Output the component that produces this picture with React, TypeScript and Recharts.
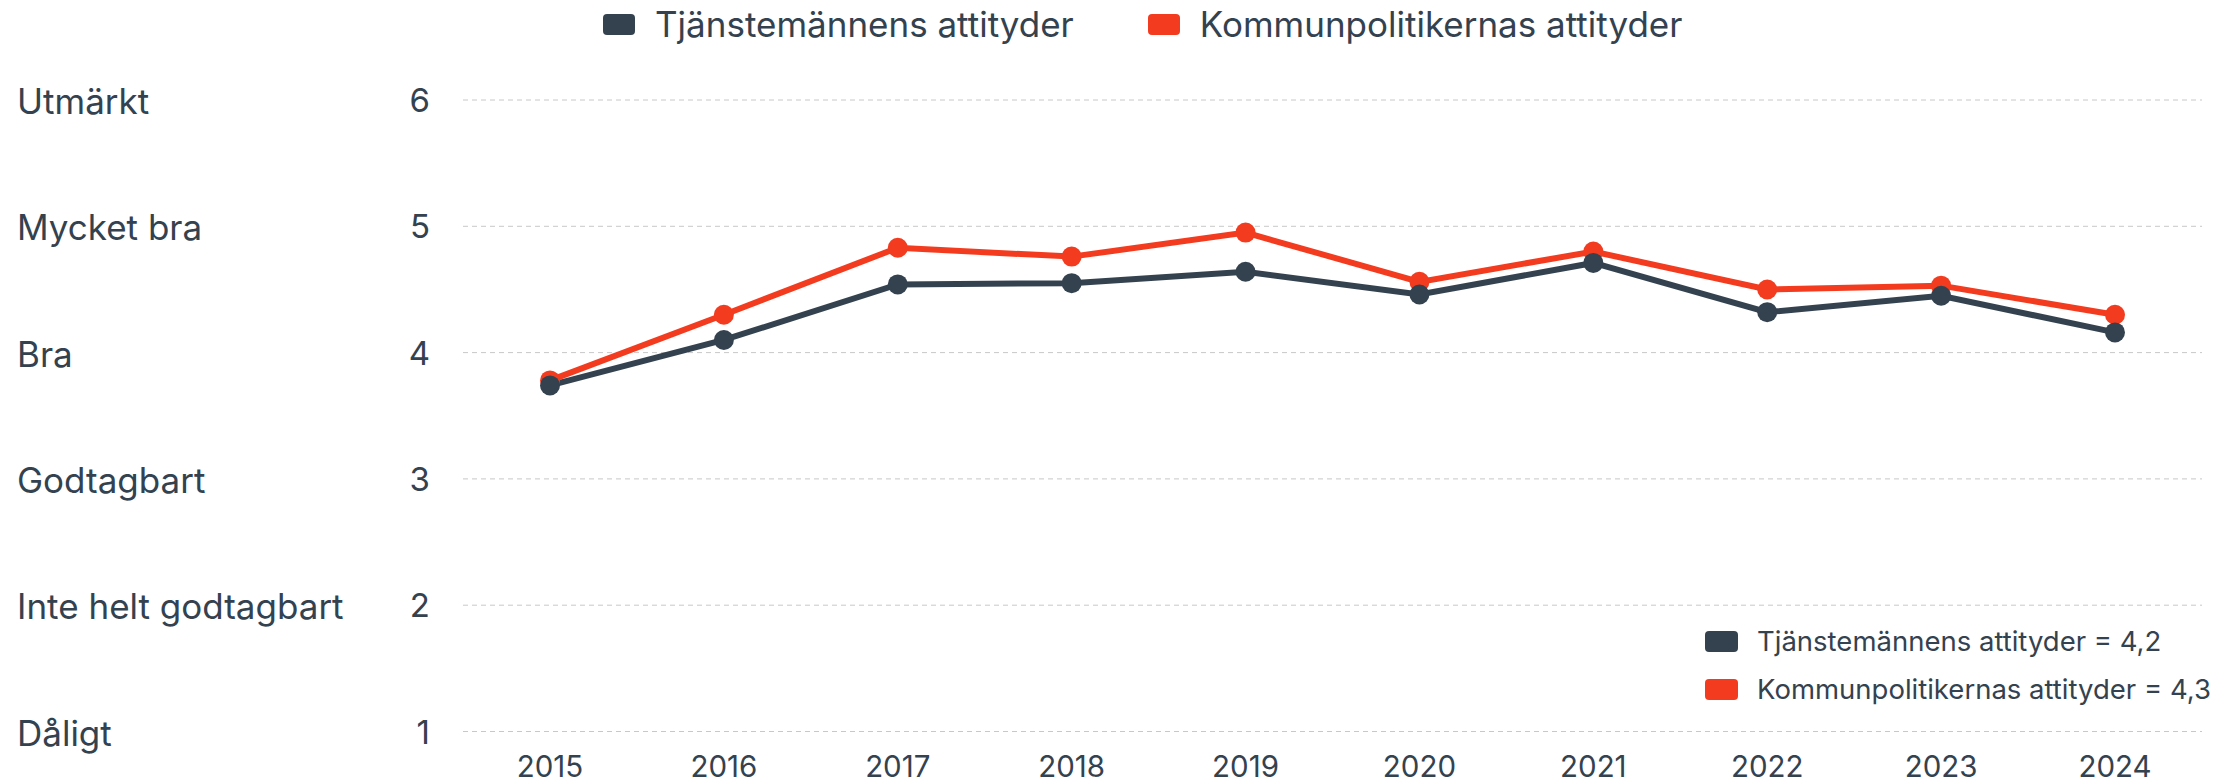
import React from 'react';
import { LineChart, Line, XAxis, YAxis, CartesianGrid, Legend } from 'recharts';

const years = ['2015', '2016', '2017', '2018', '2019', '2020', '2021', '2022', '2023', '2024'];
const tjanstemannen = [3.74, 4.1, 4.54, 4.55, 4.64, 4.46, 4.71, 4.32, 4.45, 4.16];
const politikerna = [3.78, 4.3, 4.83, 4.76, 4.95, 4.56, 4.8, 4.5, 4.53, 4.3];
const scaleTicks = [1, 2, 3, 4, 5, 6];
const scaleLabels = ['Dåligt', 'Inte helt godtagbart', 'Godtagbart', 'Bra', 'Mycket bra', 'Utmärkt'];
const latestLabels = ['4,2', '4,3'];

const DARK = '#344250';
const RED = '#f33c1f';
const TEXT = '#34424f';
const FONT = 'Inter, "Noto Sans", sans-serif';

const series = [
  { key: 'tjanstemannen', name: 'Tjänstemännens attityder', color: DARK },
  { key: 'politikerna', name: 'Kommunpolitikernas attityder', color: RED },
];

const data = years.map((year, i) => ({
  year,
  tjanstemannen: tjanstemannen[i],
  politikerna: politikerna[i],
}));

const YTick = (props: any) => {
  const { y, payload } = props;
  const idx = scaleTicks.indexOf(payload.value);
  return (
    <g>
      <text x={17} y={y + 14} fontSize={35} fill={TEXT} fontFamily={FONT} textAnchor="start">
        {scaleLabels[idx]}
      </text>
      <text x={430} y={y + 12} fontSize={33} fill={TEXT} fontFamily={FONT} textAnchor="end">
        {payload.value}
      </text>
    </g>
  );
};

const XTick = (props: any) => {
  const { x, payload } = props;
  return (
    <text x={x} y={777} fontSize={29.5} fill={TEXT} fontFamily={FONT} textAnchor="middle">
      {payload.value}
    </text>
  );
};

const Swatch = ({ color, w, h }: { color: string; w: number; h: number }) => (
  <span style={{ display: 'inline-block', width: w, height: h, background: color, borderRadius: 4 }} />
);

const Legends = () => (
  <div style={{ position: 'relative', width: 2239, height: 784, fontFamily: FONT, color: TEXT }}>
    <div style={{ position: 'absolute', left: 603, top: 3, display: 'flex', alignItems: 'center', height: 42 }}>
      {series.map((s, i) => (
        <div key={s.key} style={{ display: 'flex', alignItems: 'center', marginRight: i === 0 ? 74 : 0 }}>
          <Swatch color={s.color} w={32} h={21} />
          <span style={{ fontSize: 35, marginLeft: 20, whiteSpace: 'nowrap' }}>{s.name}</span>
        </div>
      ))}
    </div>
    <div style={{ position: 'absolute', left: 1705, top: 617 }}>
      {series.map((s, i) => (
        <div key={s.key} style={{ display: 'flex', alignItems: 'center', height: 48 }}>
          <Swatch color={s.color} w={33} h={21} />
          <span style={{ fontSize: 27.5, marginLeft: 19, whiteSpace: 'nowrap' }}>
            {s.name} = {latestLabels[i]}
          </span>
        </div>
      ))}
    </div>
  </div>
);

export default function App() {
  return (
    <div style={{ position: 'absolute', left: 0, top: 0 }}>
      <LineChart width={2239} height={784} data={data} margin={{ top: 100, right: 37, bottom: 0, left: 0 }}>
        <CartesianGrid vertical={false} stroke="#c8c8c8" strokeDasharray="5 4" />
        <XAxis
          dataKey="year"
          height={52.5}
          axisLine={false}
          tickLine={false}
          padding={{ left: 87, right: 87 }}
          tick={<XTick />}
          interval={0}
        />
        <YAxis
          width={463}
          domain={[1, 6]}
          ticks={scaleTicks}
          axisLine={false}
          tickLine={false}
          tick={<YTick />}
          interval={0}
        />
        <Legend
          layout="horizontal"
          verticalAlign="middle"
          align="center"
          wrapperStyle={{ top: 0, left: 0, width: 2239, height: 784, pointerEvents: 'none' }}
          content={() => <Legends />}
        />
        <Line
          dataKey="politikerna"
          name={series[1].name}
          stroke={RED}
          strokeWidth={6}
          dot={{ r: 10, fill: RED, stroke: 'none' }}
          activeDot={false}
          isAnimationActive={false}
        />
        <Line
          dataKey="tjanstemannen"
          name={series[0].name}
          stroke={DARK}
          strokeWidth={6}
          dot={{ r: 10, fill: DARK, stroke: 'none' }}
          activeDot={false}
          isAnimationActive={false}
        />
      </LineChart>
    </div>
  );
}
